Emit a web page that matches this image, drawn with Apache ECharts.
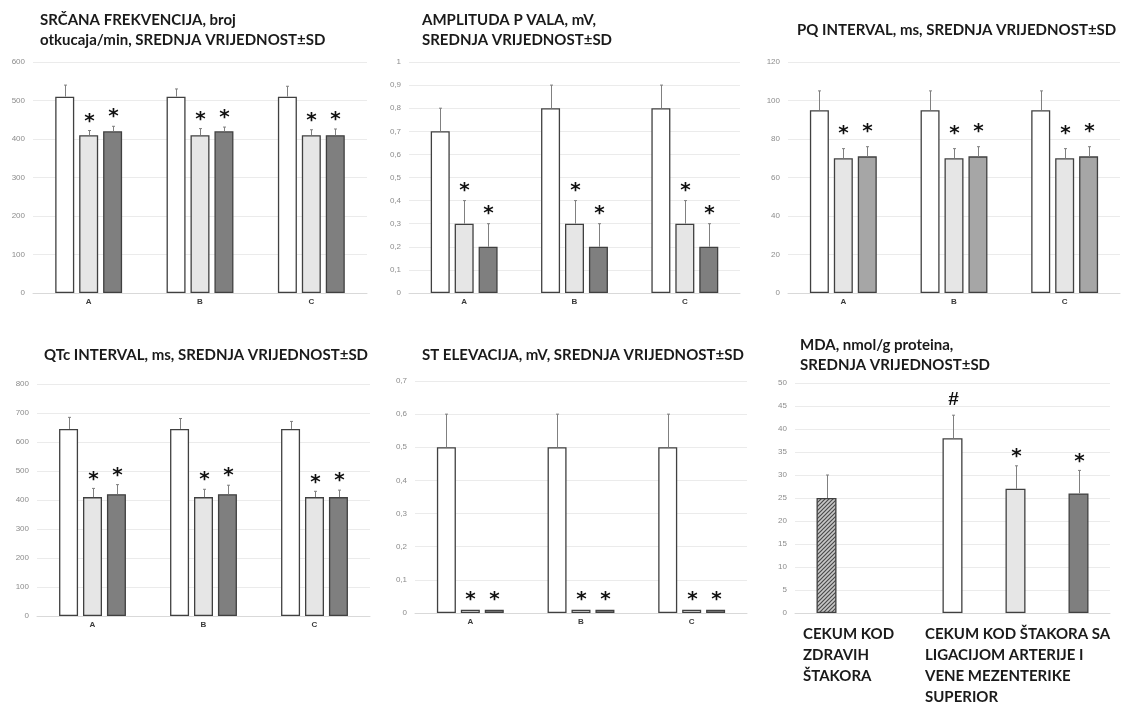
<!DOCTYPE html>
<html><head><meta charset="utf-8">
<script src="https://cdn.jsdelivr.net/npm/echarts@6/dist/echarts.min.js"></script>
<style>html,body{margin:0;padding:0;background:#fff}#c{width:1121px;height:704px}</style>
</head><body><div id="c"></div>
<script>
// ---------- data ----------
const categories = ['A', 'B', 'C'];

const hrControl = [510, 510, 510];
const hrGroup2  = [410, 410, 410];
const hrGroup3  = [420, 420, 410];
const hrSdControl = [30, 20, 27];
const hrSdGroup2  = [12, 17, 14];
const hrSdGroup3  = [13, 11, 16];

const ampControl = [0.7, 0.8, 0.8];
const ampGroup2  = [0.3, 0.3, 0.3];
const ampGroup3  = [0.2, 0.2, 0.2];
const ampSdControl = [0.1, 0.1, 0.1];
const ampSdGroup2  = [0.1, 0.1, 0.1];
const ampSdGroup3  = [0.1, 0.1, 0.1];

const pqControl = [95, 95, 95];
const pqGroup2  = [70, 70, 70];
const pqGroup3  = [71, 71, 71];
const pqSdControl = [10, 10, 10];
const pqSdGroup2  = [5, 5, 5];
const pqSdGroup3  = [5, 5, 5];

const qtcControl = [645, 645, 645];
const qtcGroup2  = [410, 410, 410];
const qtcGroup3  = [420, 420, 410];
const qtcSdControl = [40, 36, 26];
const qtcSdGroup2  = [30, 27, 20];
const qtcSdGroup3  = [33, 31, 24];

const stControl = [0.5, 0.5, 0.5];
const stGroup2  = [0.01, 0.01, 0.01];
const stGroup3  = [0.01, 0.01, 0.01];
const stSdControl = [0.1, 0.1, 0.1];
const stSdGroup2  = [0, 0, 0];
const stSdGroup3  = [0, 0, 0];

const marksControl = ['', '', ''];
const marksGroup   = ['*', '*', '*'];

const mdaCategories = ['zdravi', 'razmak', 'kontrola', 'grupa2', 'grupa3'];
const mdaValues = [25, null, 38, 27, 26];
const mdaSd     = [5, null, 5, 5, 5];
const mdaMarks  = ['', '', '#', '*', '*'];

const titles = [
  'SRČANA FREKVENCIJA, broj\notkucaja/min, SREDNJA VRIJEDNOST±SD',
  'AMPLITUDA P VALA, mV,\nSREDNJA VRIJEDNOST±SD',
  'PQ INTERVAL, ms, SREDNJA VRIJEDNOST±SD',
  'QTc INTERVAL, ms, SREDNJA VRIJEDNOST±SD',
  'ST ELEVACIJA, mV, SREDNJA VRIJEDNOST±SD',
  'MDA, nmol/g proteina,\nSREDNJA VRIJEDNOST±SD'
];
const mdaLabelHealthy = 'CEKUM KOD\nZDRAVIH\nŠTAKORA';
const mdaLabelLigation = 'CEKUM KOD ŠTAKORA SA\nLIGACIJOM ARTERIJE I\nVENE MEZENTERIKE\nSUPERIOR';

// ---------- styles ----------
const TITLE_FONT = 'Lato';
const BORDER = '#404040';
const ERR = '#808080';
const commaFmt = v => String(+(+v).toFixed(2)).replace('.', ',');

const hatch = (function () {
  const c = document.createElement('canvas');
  c.width = 4; c.height = 4;
  const g = c.getContext('2d');
  g.fillStyle = '#c8c8c8'; g.fillRect(0, 0, 4, 4);
  g.strokeStyle = '#4a4a4a'; g.lineWidth = 1.2;
  g.beginPath();
  g.moveTo(0, 4); g.lineTo(4, 0);
  g.moveTo(-1, 1); g.lineTo(1, -1);
  g.moveTo(3, 5); g.lineTo(5, 3);
  g.stroke();
  return c;
})();

const panels = [
  { grid: { left: 33, top: 62, width: 334, height: 231 }, max: 600, interval: 100, fmt: null,
    means: [hrControl, hrGroup2, hrGroup3], sds: [hrSdControl, hrSdGroup2, hrSdGroup3],
    colors: ['#ffffff', '#e6e6e6', '#7f7f7f'], markGap: 9,
    title: { left: 40, top: 10 } },
  { grid: { left: 409, top: 62, width: 331, height: 231 }, max: 1, interval: 0.1, fmt: commaFmt,
    means: [ampControl, ampGroup2, ampGroup3], sds: [ampSdControl, ampSdGroup2, ampSdGroup3],
    colors: ['#ffffff', '#e6e6e6', '#7f7f7f'], markGap: 10,
    title: { left: 422, top: 10 } },
  { grid: { left: 788, top: 62, width: 332, height: 231 }, max: 120, interval: 20, fmt: null,
    means: [pqControl, pqGroup2, pqGroup3], sds: [pqSdControl, pqSdGroup2, pqSdGroup3],
    colors: ['#ffffff', '#e6e6e6', '#a6a6a6'], markGap: 15,
    title: { left: 797, top: 20 } },
  { grid: { left: 37, top: 384, width: 333, height: 232 }, max: 800, interval: 100, fmt: null,
    means: [qtcControl, qtcGroup2, qtcGroup3], sds: [qtcSdControl, qtcSdGroup2, qtcSdGroup3],
    colors: ['#ffffff', '#e6e6e6', '#7f7f7f'], markGap: 9,
    title: { left: 44, top: 345 } },
  { grid: { left: 415, top: 381, width: 332, height: 232 }, max: 0.7, interval: 0.1, fmt: commaFmt,
    means: [stControl, stGroup2, stGroup3], sds: [stSdControl, stSdGroup2, stSdGroup3],
    colors: ['#ffffff', '#e6e6e6', '#7f7f7f'], markGap: 10,
    title: { left: 422, top: 345 } }
];
const mdaPanel = { grid: { left: 795, top: 383, width: 315, height: 230 }, max: 50, interval: 5,
  title: { left: 800, top: 335 } };

// ---------- build ----------
const BAR_W = 19, BAR_STEP = 24;
const grids = [], xAxes = [], yAxes = [], series = [], titleList = [];

function yAxisCfg(i, max, interval, fmt) {
  return {
    type: 'value', gridIndex: i, min: 0, max: max, interval: interval,
    axisLine: { show: false }, axisTick: { show: false },
    splitLine: { show: true, lineStyle: { color: '#ebebeb', width: 1 } },
    axisLabel: { color: '#8c8c8c', fontSize: 8, fontFamily: 'Liberation Sans', margin: 8,
      formatter: fmt || (v => String(v)) }
  };
}

function errRender(offset, marks, markGap) {
  return function (params, api) {
    const ci = api.value(0), m = api.value(1), sd = api.value(2);
    const base = api.coord([ci, m]);
    const top = api.coord([ci, m + sd]);
    const x = Math.round(base[0] + offset) + 0.5;
    const children = [];
    if (sd > 0) {
      children.push({ type: 'line', shape: { x1: x, y1: base[1], x2: x, y2: top[1] },
        style: { stroke: ERR, lineWidth: 1 } });
      children.push({ type: 'line', shape: { x1: x - 1.5, y1: top[1], x2: x + 1.5, y2: top[1] },
        style: { stroke: ERR, lineWidth: 1 } });
    }
    const mk = marks[params.dataIndex];
    if (mk) {
      const isHash = mk === '#';
      children.push({ type: 'text', x: x, y: top[1] - markGap - (isHash ? 6 : 0),
        style: { text: mk, fill: '#111',
          font: isHash ? 'bold 19px "Liberation Sans"' : 'bold 20px "DejaVu Sans"',
          textAlign: 'center', textVerticalAlign: 'middle' } });
    }
    return { type: 'group', children: children };
  };
}

panels.forEach((p, i) => {
  grids.push(Object.assign({ containLabel: false }, p.grid));
  xAxes.push({ type: 'category', gridIndex: i, data: categories,
    axisLine: { show: true, lineStyle: { color: '#d9d9d9' } }, axisTick: { show: false },
    axisLabel: { color: '#3a3a3a', fontSize: 8, fontWeight: 'bold', fontFamily: 'Liberation Sans', margin: 5 } });
  yAxes.push(yAxisCfg(i, p.max, p.interval, p.fmt));
  titleList.push({ text: titles[i], left: p.title.left, top: p.title.top, padding: 0,
    textStyle: { fontFamily: TITLE_FONT, fontWeight: 'bold', fontSize: 15, lineHeight: 20, color: '#1a1a1a' } });
  p.means.forEach((arr, k) => {
    series.push({ type: 'bar', xAxisIndex: i, yAxisIndex: i, data: arr, barWidth: BAR_W, barGap: '26%',
      itemStyle: { color: p.colors[k], borderColor: BORDER, borderWidth: 1.3 }, silent: true });
  });
  p.means.forEach((arr, k) => {
    series.push({ type: 'custom', xAxisIndex: i, yAxisIndex: i, z: 5,
      data: arr.map((v, ci) => [ci, v, p.sds[k][ci]]),
      renderItem: errRender((k - 1) * BAR_STEP, k === 0 ? marksControl : marksGroup, p.markGap) });
  });
});

// MDA panel
const mi = panels.length;
grids.push(Object.assign({ containLabel: false }, mdaPanel.grid));
xAxes.push({ type: 'category', gridIndex: mi, data: mdaCategories,
  axisLine: { show: true, lineStyle: { color: '#d9d9d9' } }, axisTick: { show: false }, axisLabel: { show: false } });
yAxes.push(yAxisCfg(mi, mdaPanel.max, mdaPanel.interval, null));
titleList.push({ text: titles[5], left: mdaPanel.title.left, top: mdaPanel.title.top, padding: 0,
  textStyle: { fontFamily: TITLE_FONT, fontWeight: 'bold', fontSize: 15, lineHeight: 20, color: '#1a1a1a' } });
const mdaColors = [{ image: hatch, repeat: 'repeat' }, '#ffffff', '#ffffff', '#e6e6e6', '#7f7f7f'];
series.push({ type: 'bar', xAxisIndex: mi, yAxisIndex: mi, barWidth: 20, silent: true,
  data: mdaValues.map((v, j) => ({ value: v, itemStyle: { color: mdaColors[j], borderColor: BORDER, borderWidth: 1.3 } })) });
series.push({ type: 'custom', xAxisIndex: mi, yAxisIndex: mi, z: 5,
  data: mdaValues.map((v, j) => v == null ? [j, 0, 0] : [j, v, mdaSd[j]]),
  renderItem: errRender(0, mdaMarks, 9) });
titleList.push({ text: mdaLabelHealthy, left: 803, top: 624, padding: 0,
  textStyle: { fontFamily: TITLE_FONT, fontWeight: 'bold', fontSize: 15, lineHeight: 21, color: '#1a1a1a' } });
titleList.push({ text: mdaLabelLigation, left: 925, top: 624, padding: 0,
  textStyle: { fontFamily: TITLE_FONT, fontWeight: 'bold', fontSize: 15, lineHeight: 21, color: '#1a1a1a' } });

const chart = echarts.init(document.getElementById('c'), null, { renderer: 'canvas' });
chart.setOption({
  backgroundColor: '#ffffff',
  animation: false,
  title: titleList,
  grid: grids, xAxis: xAxes, yAxis: yAxes, series: series
});
</script>
</body></html>
